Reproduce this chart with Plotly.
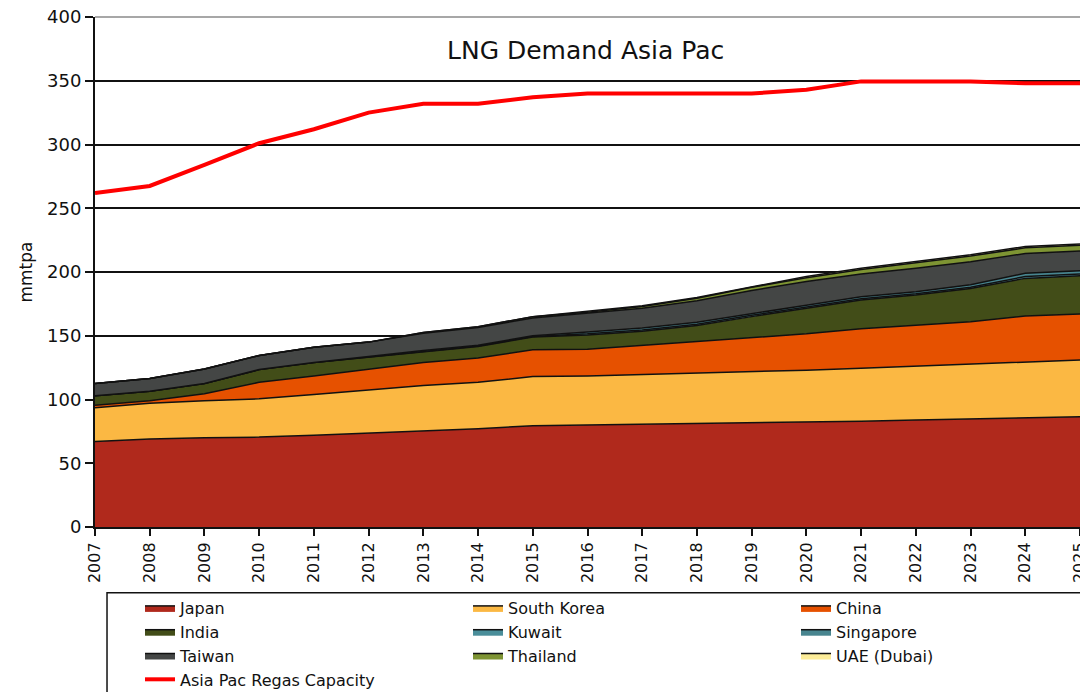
import plotly.graph_objects as go

years = list(range(2007, 2026))

# mmtpa (stacked layers, bottom to top)
japan = [67, 69, 70, 70.5, 72, 73.5, 75.5, 77, 79.5, 80, 80.5, 81, 81.5, 82, 83, 84, 85, 86, 86.5]
south_korea = [26.5, 28, 29, 30, 32, 34, 35.5, 36.5, 38.5, 38.5, 39, 39.5, 40, 41, 41.5, 42, 42.5, 43.5, 44.5]
china = [2, 2, 5.5, 13, 14.5, 16, 18, 19, 21, 21, 23, 25, 27, 28.5, 31, 32, 33.5, 36, 36]
india = [7.5, 7.5, 8, 10, 10.5, 9.5, 8.5, 9, 10, 11, 11, 12.5, 16.5, 20, 22.5, 24, 26, 29.5, 30]
kuwait = [0, 0, 0, 0, 0, 0.5, 0.5, 0.5, 0.5, 1, 1, 1, 1, 1, 1, 1, 1, 1.5, 1.5]
singapore = [0, 0, 0, 0, 0, 0.5, 0.5, 0.5, 0.5, 1.5, 1.5, 1.5, 1.5, 1.5, 1.5, 1.5, 2, 2.5, 2.5]
taiwan = [9.5, 10, 11.5, 11, 12, 11, 13.5, 14, 14, 14.5, 15.5, 17, 18, 18.5, 18, 18.5, 18, 15.5, 15.5]
thailand = [0, 0, 0, 0, 0, 0, 0.5, 0.5, 1, 1, 1.5, 2, 2.5, 3, 3.5, 4, 4.5, 4.5, 4.5]
uae = [0, 0, 0, 0, 0, 0, 0, 0, 0, 0.5, 0.5, 0.5, 0.5, 1, 1, 1, 1, 1, 1]
regas_capacity = [262, 267.5, 284, 301, 312, 325, 332, 332, 337, 340, 340, 340, 340, 343, 349.5, 349.5, 349.5, 348, 348]

layers = [
    ("Japan", japan, "#b0291c"),
    ("South Korea", south_korea, "#fbb843"),
    ("China", china, "#e65100"),
    ("India", india, "#424d18"),
    ("Kuwait", kuwait, "#4a8e9a"),
    ("Singapore", singapore, "#48858f"),
    ("Taiwan", taiwan, "#444645"),
    ("Thailand", thailand, "#7e9433"),
    ("UAE (Dubai)", uae, "#fcec98"),
]

fig = go.Figure()
for name, vals, col in layers:
    fig.add_trace(go.Scatter(
        x=years, y=vals, name=name, mode="lines",
        stackgroup="demand", fillcolor=col,
        line=dict(color="#111111", width=1.5),
    ))

fig.add_trace(go.Scatter(
    x=years, y=regas_capacity, name="Asia Pac Regas Capacity",
    mode="lines", line=dict(color="#ff0000", width=4),
))

# title sits inside the plot area
fig.add_annotation(
    text="LNG Demand Asia Pac", xref="paper", yref="paper",
    x=0.4975, y=0.935, xanchor="center", yanchor="middle", showarrow=False,
    font=dict(family="DejaVu Sans", size=25, color="#111111"),
)

# thin grey frame line along the top of the plot
fig.add_shape(
    type="line", xref="paper", yref="paper", x0=0, x1=1, y0=1, y1=1,
    line=dict(color="#8a8a8a", width=1.5),
)

# legend frame (runs off the page like the original)
fig.add_shape(
    type="rect", xref="paper", yref="paper",
    x0=0.0122, x1=1.2, y0=-0.129, y1=-0.6,
    line=dict(color="#111111", width=1.5), fillcolor="rgba(0,0,0,0)",
)

fig.update_layout(
    width=1080, height=692,
    margin=dict(l=95, r=0, t=17, b=165, autoexpand=False),
    paper_bgcolor="white", plot_bgcolor="white",
    font=dict(family="DejaVu Sans", color="#111111"),
    showlegend=True,
    legend=dict(
        orientation="h", x=0.0457, y=-0.1255, xanchor="left", yanchor="top",
        entrywidth=283, entrywidthmode="pixels", traceorder="normal",
        font=dict(family="DejaVu Sans", size=16, color="#111111"),
        bgcolor="rgba(0,0,0,0)", borderwidth=0, tracegroupgap=0,
    ),
)

fig.update_xaxes(
    range=[2007, 2025], tickmode="linear", dtick=1, tick0=2007,
    tickangle=-90, ticks="outside", ticklen=7, tickwidth=1.5, tickcolor="#111111",
    showline=True, linecolor="#111111", linewidth=2, showgrid=False, zeroline=False,
    ticklabeloverflow="allow",
    tickfont=dict(family="DejaVu Sans", size=16, color="#111111"),
)
fig.update_yaxes(
    range=[0, 400], dtick=50, ticks="outside", ticklen=8, tickwidth=1.5, tickcolor="#111111",
    showline=True, linecolor="#111111", linewidth=2,
    showgrid=True, gridcolor="#111111", gridwidth=1.5, zeroline=False,
    ticklabeloverflow="allow",
    tickfont=dict(family="DejaVu Sans", size=18, color="#111111"),
    title=dict(text="mmtpa", standoff=10, font=dict(family="DejaVu Sans", size=17, color="#111111")),
)

# drop the default 8px body margin so the figure fills the window exactly
fig.write_html(
    "out.html",
    config={"displayModeBar": False},
    post_script="document.body.style.margin = '0';",
)
